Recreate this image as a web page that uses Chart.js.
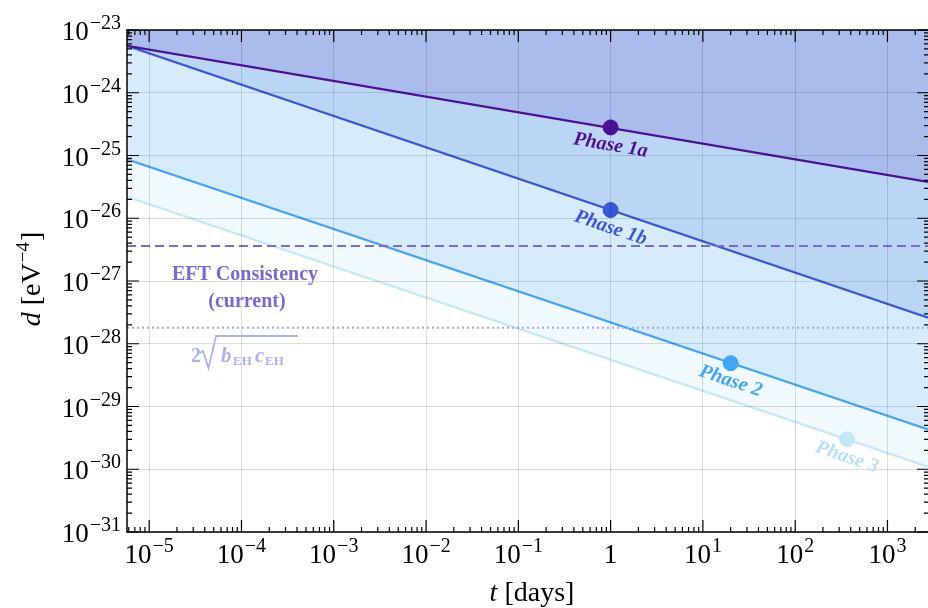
<!DOCTYPE html>
<html lang="en">
<head>
  <meta charset="utf-8">
  <title>Phase sensitivity</title>
  <script src="https://cdn.jsdelivr.net/npm/chart.js@4.4.0/dist/chart.umd.min.js"></script>
  <style>
    html, body { margin: 0; padding: 0; background: #fff; }
    #wrap { width: 928px; height: 608px; }
  </style>
</head>
<body>
  <div id="wrap"><canvas id="myChart"></canvas></div>

  <script>
    // axis range (days, eV^-4)
    const tRange = [5.75e-6, 2750];
    const dRange = [1e-31, 1e-23];
    const xTickExps = [-5, -4, -3, -2, -1, 0, 1, 2, 3];
    const yTickExps = [-31, -30, -29, -28, -27, -26, -25, -24, -23];

    // the sensitivity lines, read at the two edges of the plot
    const lineT = [5.75e-6, 2750];
    const phase1a = [5.6e-24, 3.8e-26];
    const phase1b = [5.6e-24, 2.6e-28];
    const phase2 = [8.7e-26, 4.3e-30];
    const phase3 = [2.2e-26, 1.1e-30];

    // marked points on each line
    const phaseNames = ['Phase 1a', 'Phase 1b', 'Phase 2', 'Phase 3'];
    const phaseT = [1, 1, 20, 365];
    const phaseD = [2.8e-25, 1.35e-26, 4.9e-29, 3.0e-30];

    // horizontal bounds
    const eftBound = 3.6e-27;
    const ehBound = 1.8e-28;

    const lineColors = ['#4a1097', '#3b56d7', '#42a5f5', '#c3e7fb'];
    const fillColors = ['#aabcec', '#bbd6f5', '#d6ecfc', '#eff9fe'];
    const labelColors = ['#4a1097', '#3b56d7', '#42a5f5', '#b6e0fa'];

    const serif = '"Liberation Serif", "DejaVu Serif", serif';

    const pts = arr => lineT.map((t, i) => ({ x: t, y: arr[i] }));
    const flat = v => lineT.map(t => ({ x: t, y: v }));

    const phaseLines = [phase1a, phase1b, phase2, phase3];
    const datasets = phaseLines.map((arr, i) => ({
      data: pts(arr),
      borderColor: lineColors[i],
      backgroundColor: fillColors[i],
      borderWidth: 2.2,
      pointRadius: 0,
      fill: i === 0 ? 'end' : '-1',
      order: 5
    }));

    datasets.push({
      data: flat(eftBound),
      borderColor: '#7a69d9',
      borderWidth: 2,
      borderDash: [9, 5],
      pointRadius: 0,
      fill: false,
      order: 4
    });
    datasets.push({
      data: flat(ehBound),
      borderColor: '#a9a8f0',
      borderWidth: 2,
      borderDash: [2, 3],
      pointRadius: 0,
      fill: false,
      order: 4
    });

    phaseT.forEach((t, i) => {
      datasets.push({
        type: 'scatter',
        data: [{ x: t, y: phaseD[i] }],
        backgroundColor: lineColors[i],
        borderColor: lineColors[i],
        pointRadius: 7.5,
        pointHoverRadius: 7.5,
        order: 1
      });
    });

    const isDecade = v => {
      const l = Math.log10(v);
      return Math.abs(l - Math.round(l)) < 1e-6;
    };
    const gridColor = c => (c.tick && isDecade(c.tick.value)) ? 'rgba(0,0,0,0.13)' : 'rgba(0,0,0,0)';

    const noPad = s => {
      s.paddingLeft = 0; s.paddingRight = 0; s.paddingTop = 0; s.paddingBottom = 0;
    };

    function drawPow(ctx, exp, x, y, align) {
      const big = '27px ' + serif, small = '20px ' + serif;
      const base = exp === 0 ? '1' : '10';
      const sup = exp === 0 ? '' : String(exp).replace('-', '\u2212');
      ctx.font = big;
      const wb = ctx.measureText(base).width;
      ctx.font = small;
      const we = sup ? ctx.measureText(sup).width + 1 : 0;
      let x0 = align === 'center' ? x - (wb + we) / 2 : x - wb - we;
      ctx.textAlign = 'left';
      ctx.textBaseline = 'alphabetic';
      ctx.font = big;
      ctx.fillText(base, x0, y);
      if (sup) {
        ctx.font = small;
        ctx.fillText(sup, x0 + wb + 1, y - 11);
      }
    }

    const decor = {
      id: 'decor',
      afterDraw(chart) {
        const ctx = chart.ctx, xs = chart.scales.x, ys = chart.scales.y, a = chart.chartArea;
        ctx.save();

        // phase labels, rotated along their lines
        phaseNames.forEach((name, i) => {
          const arr = phaseLines[i];
          const x1 = xs.getPixelForValue(lineT[0]), y1 = ys.getPixelForValue(arr[0]);
          const x2 = xs.getPixelForValue(lineT[1]), y2 = ys.getPixelForValue(arr[1]);
          const ang = Math.atan2(y2 - y1, x2 - x1);
          const px = xs.getPixelForValue(phaseT[i]), py = ys.getPixelForValue(phaseD[i]);
          ctx.save();
          ctx.translate(px, py + 18);
          ctx.rotate(ang);
          ctx.font = 'italic bold 20px ' + serif;
          ctx.fillStyle = labelColors[i];
          ctx.textAlign = 'center';
          ctx.textBaseline = 'middle';
          ctx.fillText(name, 0, 0);
          ctx.restore();
        });

        // EFT consistency text
        ctx.fillStyle = '#7b68d4';
        ctx.font = 'bold 20px ' + serif;
        ctx.textAlign = 'center';
        ctx.textBaseline = 'middle';
        ctx.fillText('EFT Consistency', 245, 275);
        ctx.fillText('(current)', 247, 302);

        // 2 sqrt(b_EH c_EH)
        const lc = '#aab1ee';
        ctx.fillStyle = lc;
        ctx.strokeStyle = lc;
        ctx.textAlign = 'left';
        ctx.textBaseline = 'alphabetic';
        ctx.font = 'bold 20px ' + serif;
        ctx.fillText('2', 191, 362);
        ctx.lineWidth = 1.8;
        ctx.beginPath();
        ctx.moveTo(200, 353);
        ctx.lineTo(203, 351);
        ctx.lineTo(208.5, 368);
        ctx.lineTo(216, 336);
        ctx.lineTo(298, 336);
        ctx.stroke();
        ctx.font = 'italic bold 21px ' + serif;
        ctx.fillText('b', 221, 362);
        ctx.fillText('c', 255, 362);
        ctx.font = 'bold 13px ' + serif;
        ctx.fillText('EH', 233, 365);
        ctx.fillText('EH', 265, 365);

        // frame
        ctx.strokeStyle = '#000';
        ctx.lineWidth = 1.5;
        ctx.beginPath();
        ctx.moveTo(a.right + 2, a.top);
        ctx.lineTo(a.left, a.top);
        ctx.lineTo(a.left, a.bottom);
        ctx.lineTo(a.right + 2, a.bottom);
        ctx.stroke();

        // inward tick marks
        ctx.lineWidth = 1.2;
        ctx.beginPath();
        for (let e = -6; e <= 3; e++) {
          for (let k = 1; k <= 9; k++) {
            const v = k * Math.pow(10, e);
            if (v < tRange[0] || v > tRange[1]) continue;
            const px = xs.getPixelForValue(v);
            const len = k === 1 ? 12 : 5;
            ctx.moveTo(px, a.bottom); ctx.lineTo(px, a.bottom - len);
            ctx.moveTo(px, a.top); ctx.lineTo(px, a.top + len);
          }
        }
        for (let e = -31; e <= -23; e++) {
          for (let k = 1; k <= 9; k++) {
            const v = k * Math.pow(10, e);
            if (v < dRange[0] * 0.999 || v > dRange[1] * 1.001) continue;
            const py = ys.getPixelForValue(v);
            const len = k === 1 ? 12 : 5;
            ctx.moveTo(a.left, py); ctx.lineTo(a.left + len, py);
            ctx.moveTo(a.right + 1, py); ctx.lineTo(a.right + 1 - len, py);
          }
        }
        ctx.stroke();

        // tick labels
        ctx.fillStyle = '#000';
        xTickExps.forEach(e => drawPow(ctx, e, xs.getPixelForValue(Math.pow(10, e)), 563, 'center'));
        yTickExps.forEach(e => drawPow(ctx, e, 121, ys.getPixelForValue(Math.pow(10, e)) + 10, 'right'));

        // axis titles
        ctx.textBaseline = 'alphabetic';
        ctx.textAlign = 'left';
        ctx.font = 'italic 28px ' + serif;
        const wt = ctx.measureText('t').width;
        ctx.font = '28px ' + serif;
        const wd = ctx.measureText(' [days]').width;
        let x0 = 532 - (wt + wd) / 2;
        ctx.font = 'italic 28px ' + serif;
        ctx.fillText('t', x0, 601);
        ctx.font = '28px ' + serif;
        ctx.fillText(' [days]', x0 + wt, 601);

        ctx.save();
        ctx.translate(40, 280);
        ctx.rotate(-Math.PI / 2);
        ctx.font = 'italic 28px ' + serif;
        const w1 = ctx.measureText('d').width;
        ctx.font = '28px ' + serif;
        const w2 = ctx.measureText(' [eV').width;
        ctx.font = '19px ' + serif;
        const w3 = ctx.measureText('\u22124').width;
        ctx.font = '28px ' + serif;
        const w4 = ctx.measureText(']').width;
        let s = -(w1 + w2 + w3 + w4) / 2;
        ctx.font = 'italic 28px ' + serif;
        ctx.fillText('d', s, 0);
        ctx.font = '28px ' + serif;
        ctx.fillText(' [eV', s + w1, 0);
        ctx.font = '19px ' + serif;
        ctx.fillText('\u22124', s + w1 + w2 + 1, -11);
        ctx.font = '28px ' + serif;
        ctx.fillText(']', s + w1 + w2 + w3 + 2, 0);
        ctx.restore();

        ctx.restore();
      }
    };

    const config = {
      type: 'line',
      data: { datasets: datasets },
      options: {
        responsive: false,
        animation: false,
        layout: { autoPadding: false, padding: { left: 127, top: 30, right: 0, bottom: 76 } },
        scales: {
          x: {
            type: 'logarithmic',
            min: tRange[0],
            max: tRange[1],
            afterFit: s => { s.height = 0; noPad(s); },
            ticks: { display: false },
            border: { display: false },
            grid: { color: gridColor, drawTicks: false, z: 1 }
          },
          y: {
            type: 'logarithmic',
            min: dRange[0],
            max: dRange[1],
            afterFit: s => { s.width = 0; noPad(s); },
            ticks: { display: false },
            border: { display: false },
            grid: { color: gridColor, drawTicks: false, z: 1 }
          }
        },
        plugins: {
          legend: { display: false },
          tooltip: { enabled: false },
          filler: { propagate: false }
        }
      },
      plugins: [decor]
    };

    const canvas = document.getElementById('myChart');
    canvas.width = 928;
    canvas.height = 608;
    const myChart = new Chart(canvas, config);
  </script>
</body>
</html>
